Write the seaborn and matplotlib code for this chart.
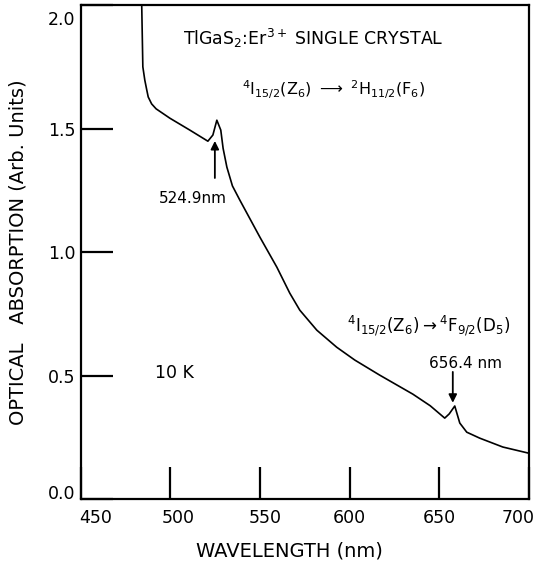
import numpy as np
import pandas as pd
import matplotlib
matplotlib.use("Agg")
import matplotlib.pyplot as plt
import matplotlib.transforms as mtransforms
import seaborn as sns

# absorption spectrum
wavelength = [483.9, 484.6, 485.7, 486.8, 487.6, 489.5, 492.0, 499.7, 510.8, 520.9,
              523.7, 525.9, 528.1, 529.4, 531.5, 534.6, 538.7, 549.9, 559.4, 566.6,
              572.2, 581.7, 592.8, 602.9, 616.8, 635.3, 645.0, 653.1, 655.6, 658.7,
              661.5, 665.4, 672.6, 685.5, 700.0]
absorption = [2.03, 1.75, 1.696, 1.656, 1.628, 1.600, 1.580, 1.542, 1.494, 1.449,
              1.474, 1.534, 1.494, 1.420, 1.344, 1.268, 1.211, 1.061, 0.939, 0.834,
              0.765, 0.684, 0.615, 0.563, 0.502, 0.425, 0.378, 0.328, 0.345, 0.377,
              0.308, 0.271, 0.247, 0.211, 0.186]

x_ticks = [450, 500, 550, 600, 650, 700]
y_ticks = [0.0, 0.5, 1.0, 1.5, 2.0]
y_ticklabels = ["0.0", "0.5", "1.0", "1.5", "2.0"]

df = pd.DataFrame({"wl": wavelength, "abs": absorption})

sns.set_style("white")
plt.rcParams["font.family"] = ["DejaVu Sans"]
plt.rcParams["mathtext.default"] = "regular"
plt.rcParams["text.color"] = "black"
plt.rcParams["axes.labelcolor"] = "black"

fig = plt.figure(figsize=(5.39, 5.64), dpi=100)
ax = fig.add_axes([0.150, 0.115, 0.831, 0.876])

sns.lineplot(data=df, x="wl", y="abs", color="black", lw=1.2,
             sort=False, estimator=None, ax=ax)

ax.set_xlim(450, 700)
ax.set_ylim(0, 2.0)
ax.set_xticks(x_ticks)
ax.set_yticks(y_ticks)
ax.set_yticklabels(y_ticklabels)
ax.tick_params(bottom=True, left=True, direction="in", length=23, width=1.6,
               color="black", labelsize=12.5, labelcolor="black")
ax.tick_params(axis="x", pad=7)
ax.tick_params(axis="y", pad=4)
for s in ax.spines.values():
    s.set_visible(True)
    s.set_color("black")
    s.set_linewidth(1.6)

# the hand-lettered tick labels sit a little off their ticks
x_shift = [15, 8, 5, 0, 0, -11]
for lab, dx in zip(ax.get_xticklabels(), x_shift):
    lab.set_transform(lab.get_transform() +
                      mtransforms.ScaledTranslation(dx / 100, 0, fig.dpi_scale_trans))
y_shift = [7, 0, 0, 0, -13]
for lab, dy in zip(ax.get_yticklabels(), y_shift):
    lab.set_transform(lab.get_transform() +
                      mtransforms.ScaledTranslation(0, dy / 100, fig.dpi_scale_trans))

ax.set_xlabel("WAVELENGTH (nm)", fontsize=14, color="black")
ax.set_ylabel("OPTICAL   ABSORPTION (Arb. Units)", fontsize=14, color="black")
ax.xaxis.set_label_coords(0.466, -0.085)
ax.yaxis.set_label_coords(-0.12, 0.5)

ax.text(579.5, 1.866, r"TlGaS$_2$:Er$^{3+}$ SINGLE CRYSTAL", fontsize=12.5,
        ha="center", va="center")
ax.text(539.8, 1.656, r"$^4$I$_{15/2}$(Z$_6$) $\longrightarrow$ $^2$H$_{11/2}$(F$_6$)",
        fontsize=11.5, ha="left", va="center")
ax.text(598.4, 0.704, r"$^4$I$_{15/2}$(Z$_6$)$\rightarrow$$^4$F$_{9/2}$(D$_5$)",
        fontsize=12, ha="left", va="center")
ax.text(491.3, 0.51, "10 K", fontsize=12.5, ha="left", va="center")

ax.annotate("", xy=(524.8, 1.45), xytext=(524.8, 1.30),
            arrowprops=dict(arrowstyle="-|>", color="black", lw=1.3,
                            mutation_scale=12, shrinkA=0, shrinkB=0))
ax.text(512.5, 1.219, "524.9nm", fontsize=11, ha="center", va="center")

ax.annotate("", xy=(657.6, 0.39), xytext=(657.6, 0.515),
            arrowprops=dict(arrowstyle="-|>", color="black", lw=1.3,
                            mutation_scale=12, shrinkA=0, shrinkB=0))
ax.text(664.8, 0.55, "656.4 nm", fontsize=11, ha="center", va="center")

fig.savefig("out.png", dpi=100)
